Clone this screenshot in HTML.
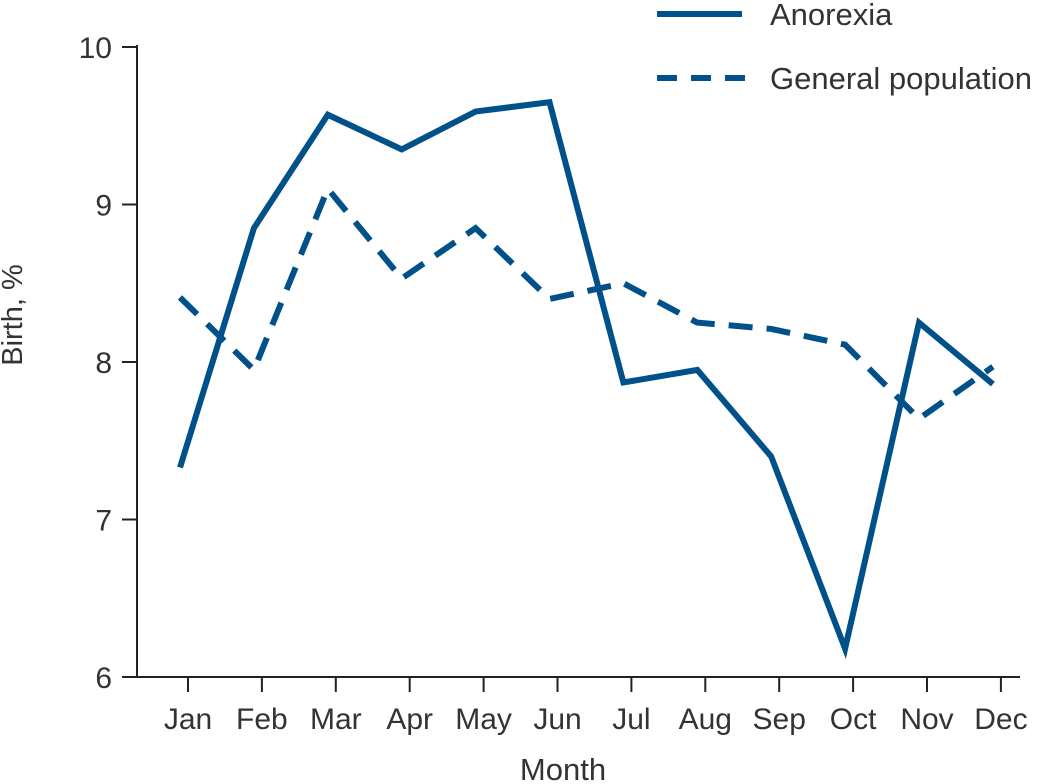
<!DOCTYPE html>
<html><head><meta charset="utf-8"><style>
html,body{margin:0;padding:0;background:#fff;}
svg{display:block;font-family:"Liberation Sans",sans-serif;}
text{fill:#333;}
</style></head><body>
<svg id="chart" width="1041" height="784">
<line x1="137" y1="45" x2="137" y2="677" stroke="#222" stroke-width="2"/>
<line x1="122" y1="677" x2="1020" y2="677" stroke="#222" stroke-width="2"/>
<g id="yticks"></g><g id="xticks"></g>
<text x="22" y="315" font-size="29" text-anchor="middle" transform="rotate(-90 22 315)">Birth, %</text>
<text x="563" y="780" font-size="31" text-anchor="middle">Month</text>
<g>
<line x1="657" y1="14" x2="742" y2="14" stroke="#00508a" stroke-width="6"/>
<text x="770" y="25" font-size="31">Anorexia</text>
<line x1="657" y1="78" x2="752" y2="78" stroke="#00508a" stroke-width="6" stroke-dasharray="20,14"/>
<text x="770" y="89" font-size="31">General population</text>
</g>
<g id="series"></g>
</svg>
<script>
const months=["Jan","Feb","Mar","Apr","May","Jun","Jul","Aug","Sep","Oct","Nov","Dec"];
const anorexia=[7.33,8.85,9.57,9.35,9.59,9.65,7.87,7.95,7.40,6.18,8.25,7.86];
const general=[8.41,7.95,9.10,8.53,8.85,8.40,8.50,8.25,8.21,8.11,7.64,7.97];
const yTicks=[6,7,8,9,10];
const NS="http://www.w3.org/2000/svg";
function ys(v){return 677-(v-6)*157.5;}
function xs(i){return 180+i*73.9;}
function mk(t,a,p){const e=document.createElementNS(NS,t);for(const k in a)e.setAttribute(k,a[k]);p.appendChild(e);return e;}
const yt=document.getElementById('yticks');
yTicks.forEach(v=>{
 const l=mk('line',{x1:122,x2:137,y1:ys(v),y2:ys(v),stroke:'#222','stroke-width':2},yt);
 
 
 const t=mk('text',{x:112,y:ys(v)+11,'font-size':30,'text-anchor':'end'},yt);
 t.textContent=v;
 
 
});
const xt=document.getElementById('xticks');
months.forEach((m,i)=>{
 const x=xs(i)+8;
 const l=mk('line',{x1:x,x2:x,y1:677,y2:692,stroke:'#222','stroke-width':2},xt);
 
 
 const t=mk('text',{x:x,y:729,'font-size':30,'text-anchor':'middle'},xt);
 t.textContent=m;
 
 
});
const s=document.getElementById('series');
function pts(a){return a.map((v,i)=>xs(i)+','+ys(v)).join(' ');}
const p1=mk('polyline',{points:pts(anorexia),fill:'none',stroke:'#00508a','stroke-width':6,'stroke-linejoin':'miter'},s);


const p2=mk('polyline',{points:pts(general),fill:'none',stroke:'#00508a','stroke-width':6,'stroke-dasharray':'24,14'},s);


</script>
</body></html>
